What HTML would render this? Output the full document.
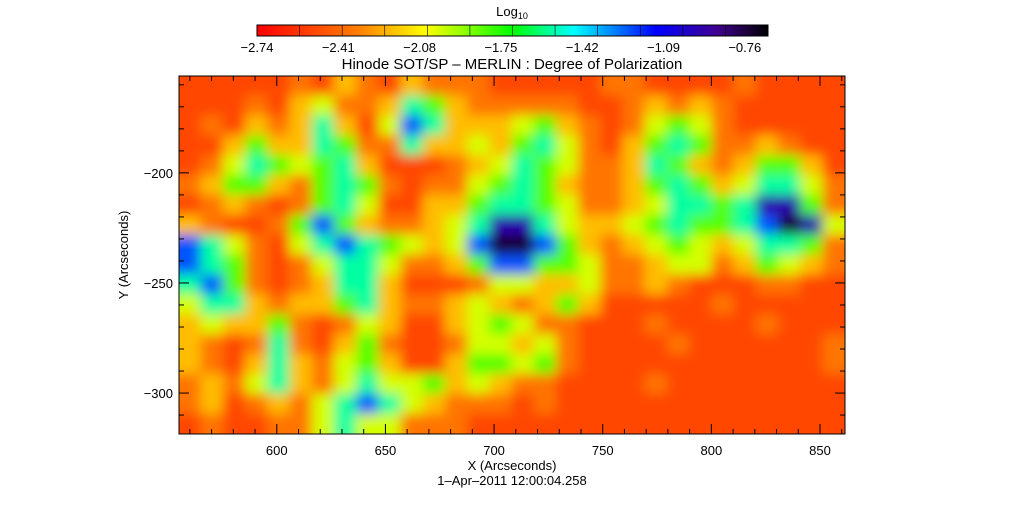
<!DOCTYPE html>
<html><head><meta charset="utf-8"><style>
html,body{margin:0;padding:0;background:#fff;}
svg{display:block;font-family:"Liberation Sans",sans-serif;}
</style></head><body>
<svg id="chart" width="1023" height="512" viewBox="0 0 1023 512" xmlns="http://www.w3.org/2000/svg">
<defs>
<linearGradient id="cbar" x1="0" x2="1" y1="0" y2="0">
<stop offset="0" stop-color="#ff0000"/><stop offset="0.2" stop-color="#ff8000"/><stop offset="0.33" stop-color="#ffff00"/><stop offset="0.5" stop-color="#00ff00"/><stop offset="0.62" stop-color="#00ffff"/><stop offset="0.78" stop-color="#0000ff"/><stop offset="0.9" stop-color="#400090"/><stop offset="1" stop-color="#000000"/>
</linearGradient>
<clipPath id="plotclip"><rect x="179" y="76" width="666" height="358"/></clipPath>
<filter id="soft" filterUnits="userSpaceOnUse" x="140" y="40" width="750" height="440"><feGaussianBlur stdDeviation="6"/></filter>
</defs>
<text x="512" y="16" text-anchor="middle" font-size="13">Log<tspan font-size="9" dy="3">10</tspan></text>
<rect x="257" y="25" width="511" height="11" fill="url(#cbar)" stroke="#000" stroke-width="1"/>
<g id="cbticks"></g>
<text x="512" y="69" text-anchor="middle" font-size="15">Hinode SOT/SP – MERLIN : Degree of Polarization</text>
<g clip-path="url(#plotclip)"><g id="cells" filter="url(#soft)"></g></g>
<rect x="179" y="76" width="666" height="358" fill="none" stroke="#000" stroke-width="1"/>
<g id="axes"></g>
<text x="512" y="470" text-anchor="middle" font-size="13">X (Arcseconds)</text>
<text x="512" y="485" text-anchor="middle" font-size="13">1–Apr–2011 12:00:04.258</text>
<text x="128" y="255" text-anchor="middle" font-size="13" transform="rotate(-90 128 255)">Y (Arcseconds)</text>
</svg>
<script>
const cbLabels = ["-2.74","-2.41","-2.08","-1.75","-1.42","-1.09","-0.76"];
const xTicks = [600,650,700,750,800,850];
const yTicks = [-200,-250,-300];
const levelValues = [-2.66,-2.52,-2.38,-2.22,-2.03,-1.86,-1.60,-1.30,-1.02,-0.82];
const gridRows = [
"111112132132221111122111121111",
"111213422365322222112323211111",
"121323631476333453212454211111",
"113533652263343564213565223211",
"124654563111234654223653235531",
"235532565212245653223565346642",
"123212564113356654223466568852",
"321125753223468864334565567984",
"764214676543479975323454346652",
"765212466422357755422344235432",
"675212366311124433422321112211",
"466323356322343235311111211111",
"343352124311345422111211112111",
"321262135211244342111121111112",
"321363245311355452111111111112",
"232463246445343221111211111111",
"231232467643222121111111111111",
"121122464422211111111111111111"
];
const NS="http://www.w3.org/2000/svg";
const PX0=179,PX1=845,PY0=76,PY1=434;
const xMin=555,xMax=861.5,yMax=-156,yMin=-318.6;
function xs(v){return PX0+(v-xMin)/(xMax-xMin)*(PX1-PX0);}
function ys(v){return PY0+(yMax-v)/(yMax-yMin)*(PY1-PY0);}
const stops=[[0,[255,0,0]],[0.2,[255,128,0]],[0.33,[255,255,0]],[0.5,[0,255,0]],[0.62,[0,255,255]],[0.78,[0,0,255]],[0.9,[64,0,144]],[1,[0,0,0]]];
function color(v){
  let t=(v+2.74)/1.98; t=Math.max(0,Math.min(1,t));
  for(let i=1;i<stops.length;i++){ if(t<=stops[i][0]){const a=stops[i-1],b=stops[i];const f=(t-a[0])/(b[0]-a[0]);
    const c=a[1].map((x,k)=>Math.round(x+(b[1][k]-x)*f));return `rgb(${c[0]},${c[1]},${c[2]})`;}}
  return "rgb(0,0,0)";
}
function mk(tag,attrs,parent){const e=document.createElementNS(NS,tag);for(const k in attrs)e.setAttribute(k,attrs[k]);parent.appendChild(e);return e;}
const cells=document.getElementById('cells');
const nr=gridRows.length,nc=gridRows[0].length;
const cw=(PX1-PX0)/nc,ch=(PY1-PY0)/nr;
mk('rect',{x:PX0-30,y:PY0-30,width:PX1-PX0+60,height:PY1-PY0+60,fill:color(levelValues[1])},cells);
for(let r=0;r<nr;r++){for(let c=0;c<nc;c++){
  const v=levelValues[+gridRows[r][c]];
  const ex=(c===0?-30:0),ey=(r===0?-30:0),ew=(c===nc-1?30:0)-ex,eh=(r===nr-1?30:0)-ey;
  const el=mk('rect',{x:PX0+c*cw+ex-0.5,y:PY0+r*ch+ey-0.5,width:cw+ew+1,height:ch+eh+1,fill:color(v)},cells);
  
  
}}
const cbt=document.getElementById('cbticks');
for(let i=1;i<12;i++){const x=257+511*i/12;mk('line',{x1:x,x2:x,y1:25,y2:36,stroke:'#000','stroke-width':0.6},cbt);}
cbLabels.forEach((l,i)=>{const t=mk('text',{x:257+i*81.3,y:52,'text-anchor':'middle','font-size':13},cbt);t.textContent=l.replace('-','\u2212');
  
  });
const ax=document.getElementById('axes');
for(let v=560;v<=860;v+=10){const x=xs(v);const major=(v%50===0);const L=major?10:5;
  mk('line',{x1:x,x2:x,y1:PY1,y2:PY1-L,stroke:'#000','stroke-width':1},ax);
  mk('line',{x1:x,x2:x,y1:PY0,y2:PY0+L,stroke:'#000','stroke-width':1},ax);}
xTicks.forEach(v=>{const t=mk('text',{x:xs(v),y:455,'text-anchor':'middle','font-size':13},ax);t.textContent=v;
  
  });
for(let v=-310;v<=-160;v+=10){const y=ys(v);const major=(v%50===0);const L=major?10:5;
  mk('line',{x1:PX0,x2:PX0+L,y1:y,y2:y,stroke:'#000','stroke-width':1},ax);
  mk('line',{x1:PX1,x2:PX1-L,y1:y,y2:y,stroke:'#000','stroke-width':1},ax);}
yTicks.forEach(v=>{const t=mk('text',{x:173,y:ys(v)+5,'text-anchor':'end','font-size':13},ax);t.textContent=String(v).replace('-','\u2212');
  
  });
</script>
</body></html>
